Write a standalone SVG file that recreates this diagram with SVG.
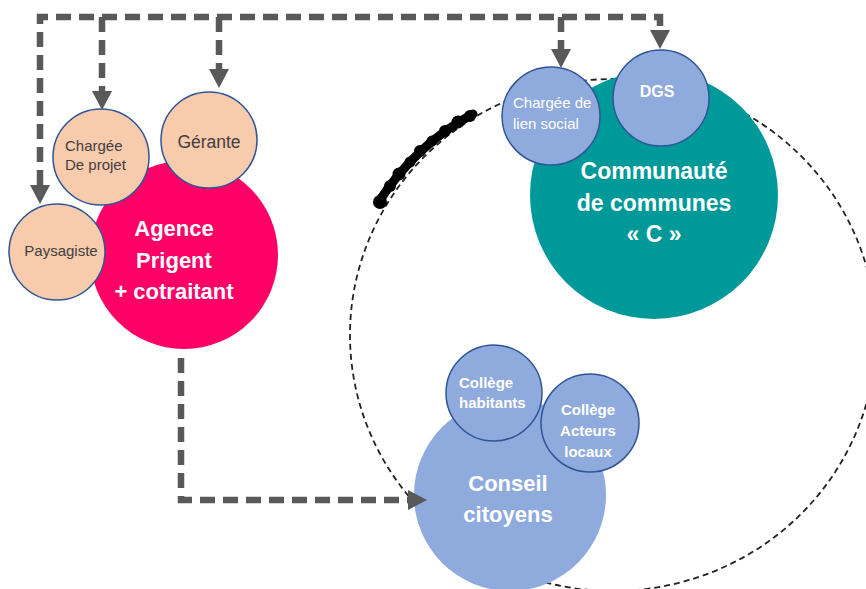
<svg xmlns="http://www.w3.org/2000/svg" width="866" height="589" viewBox="0 0 866 589">
<style>
.peach{fill:#F8CBAD;stroke:#2F5597;stroke-width:1.5}
.blue{fill:#8FAADC;stroke:#2F5597;stroke-width:1.5}
.dark{font-family:"Liberation Sans",Arial,sans-serif;fill:#404040}
.w{font-family:"Liberation Sans",Arial,sans-serif;fill:#fff}
.b{font-weight:bold}
.conn{fill:none;stroke:#595959;stroke-width:6.5;stroke-dasharray:15 8}
.blob{fill:#000}
</style>
<defs>
<marker id="arr" markerUnits="userSpaceOnUse" markerWidth="20" markerHeight="22" refX="0" refY="10" orient="auto-start-reverse" overflow="visible">
<path d="M0,0 L19,10 L0,20 Z" fill="#595959"/>
</marker>
</defs>
<rect width="866" height="589" fill="#fff"/>
<g id="boundary">
<ellipse cx="613" cy="335" rx="263" ry="256" fill="none" stroke="#222" stroke-width="1.8" stroke-dasharray="6 4"/>
<path d="M378,203 Q415,145 473,114" fill="none" stroke="#000" stroke-width="9" stroke-linecap="round"/>
<circle class="blob" cx="380" cy="202" r="7"/>
<circle class="blob" cx="390" cy="186" r="6"/>
<circle class="blob" cx="399" cy="174" r="6.5"/>
<circle class="blob" cx="410" cy="162" r="5.5"/>
<circle class="blob" cx="420" cy="151" r="6"/>
<circle class="blob" cx="432" cy="141" r="5.5"/>
<circle class="blob" cx="445" cy="131" r="6"/>
<circle class="blob" cx="458" cy="122" r="6.5"/>
<circle class="blob" cx="470" cy="116" r="6"/>
</g>
<g id="agence">
<circle cx="184" cy="255" r="94" fill="#FF0066"/>
<text class="w b" font-size="22" text-anchor="middle"><tspan x="174" y="236">Agence</tspan><tspan x="174" y="268">Prigent</tspan><tspan x="174" y="299">+ cotraitant</tspan></text>
</g>
<g id="chargee-projet">
<circle class="peach" cx="101" cy="157" r="48"/>
<text class="dark" font-size="15"><tspan x="65" y="151">Chargée</tspan><tspan x="65" y="170">De projet</tspan></text>
</g>
<g id="gerante">
<circle class="peach" cx="209" cy="140" r="48"/>
<text class="dark" font-size="17.5" text-anchor="middle" x="209" y="148">Gérante</text>
</g>
<g id="paysagiste">
<circle class="peach" cx="57" cy="252" r="48"/>
<text class="dark" font-size="15" text-anchor="middle" x="61" y="256">Paysagiste</text>
</g>
<g id="communaute">
<circle cx="654" cy="195" r="124" fill="#009999"/>
<text class="w b" font-size="23" text-anchor="middle"><tspan x="654" y="179">Communauté</tspan><tspan x="654" y="211">de communes</tspan><tspan x="654" y="242">« C »</tspan></text>
</g>
<g id="chargee-lien">
<circle class="blue" cx="551" cy="116" r="49"/>
<text class="w" font-size="15"><tspan x="513" y="108">Chargée de</tspan><tspan x="513" y="129">lien social</tspan></text>
</g>
<g id="dgs">
<circle class="blue" cx="661" cy="98" r="48"/>
<text class="w b" font-size="16" text-anchor="middle" x="657" y="97">DGS</text>
</g>
<g id="conseil">
<circle cx="510" cy="495" r="96" fill="#8FAADC"/>
<text class="w b" font-size="22" text-anchor="middle"><tspan x="508" y="491">Conseil</tspan><tspan x="508" y="522">citoyens</tspan></text>
</g>
<g id="college-habitants">
<circle class="blue" cx="494" cy="393" r="48"/>
<text class="w b" font-size="15"><tspan x="459" y="388">Collège</tspan><tspan x="459" y="408">habitants</tspan></text>
</g>
<g id="college-acteurs">
<circle class="blue" cx="590" cy="423" r="49"/>
<text class="w b" font-size="15" text-anchor="middle"><tspan x="588" y="415">Collège</tspan><tspan x="588" y="436">Acteurs</tspan><tspan x="588" y="457">locaux</tspan></text>
</g>
<g id="connectors">
<path class="conn" d="M40,185 V17 H660 V30" marker-start="url(#arr)" marker-end="url(#arr)"/>
<path class="conn" d="M102,17 V91" marker-end="url(#arr)"/>
<path class="conn" d="M219,17 V69" marker-end="url(#arr)"/>
<path class="conn" d="M561,17 V49" marker-end="url(#arr)"/>
<path class="conn" d="M181,358 V500 H408" marker-end="url(#arr)"/>
</g>
</svg>
